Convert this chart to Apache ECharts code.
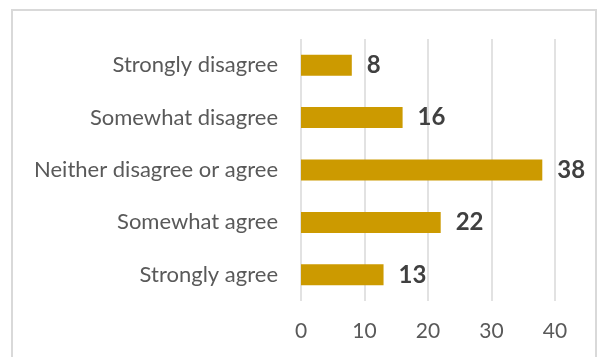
<!DOCTYPE html>
<html>
<head>
<meta charset="utf-8">
<style>
  html, body { margin: 0; padding: 0; background: #ffffff; }
  #chart { width: 598px; height: 357px; }
</style>
<script src="https://cdn.jsdelivr.net/npm/echarts@6/dist/echarts.min.js"></script>
</head>
<body>
<div id="chart"></div>
<script>
// Response categories, listed bottom to top as the axis draws them
const categories = [
  'Strongly agree',
  'Somewhat agree',
  'Neither disagree or agree',
  'Somewhat disagree',
  'Strongly disagree'
];
// Number of responses per category
const counts = [13, 22, 38, 16, 8];
// Value axis ticks
const tickValues = [0, 10, 20, 30, 40];

const FONT = 'Lato, "Open Sans", sans-serif';

const chart = echarts.init(document.getElementById('chart'), null, { renderer: 'canvas' });

chart.setOption({
  animation: false,
  backgroundColor: '#ffffff',
  graphic: [
    {
      type: 'rect',
      shape: { x: 12, y: 10, width: 584, height: 360 },
      style: { fill: 'none', stroke: '#d9d9d9', lineWidth: 2 },
      silent: true,
      z: -1
    }
  ],
  grid: { left: 301, right: 43, top: 39, bottom: 56, containLabel: false },
  xAxis: {
    type: 'value',
    min: tickValues[0],
    max: tickValues[tickValues.length - 1],
    interval: tickValues[1] - tickValues[0],
    axisLine: { show: false },
    axisTick: { show: false },
    splitLine: { show: true, lineStyle: { color: '#d9d9d9', width: 1.5 } },
    axisLabel: { color: '#595959', fontFamily: FONT, fontSize: 21, margin: 20 }
  },
  yAxis: {
    type: 'category',
    data: categories,
    axisLine: { show: false },
    axisTick: { show: false },
    splitLine: { show: false },
    axisLabel: { color: '#595959', fontFamily: FONT, fontSize: 22, margin: 23 }
  },
  series: [
    {
      type: 'bar',
      data: counts,
      barWidth: 21,
      itemStyle: { color: '#cc9a00' },
      label: {
        show: true,
        position: 'right',
        distance: 15,
        color: '#404040',
        fontFamily: FONT,
        fontSize: 24,
        fontWeight: 'bold'
      }
    }
  ]
});
</script>
</body>
</html>
